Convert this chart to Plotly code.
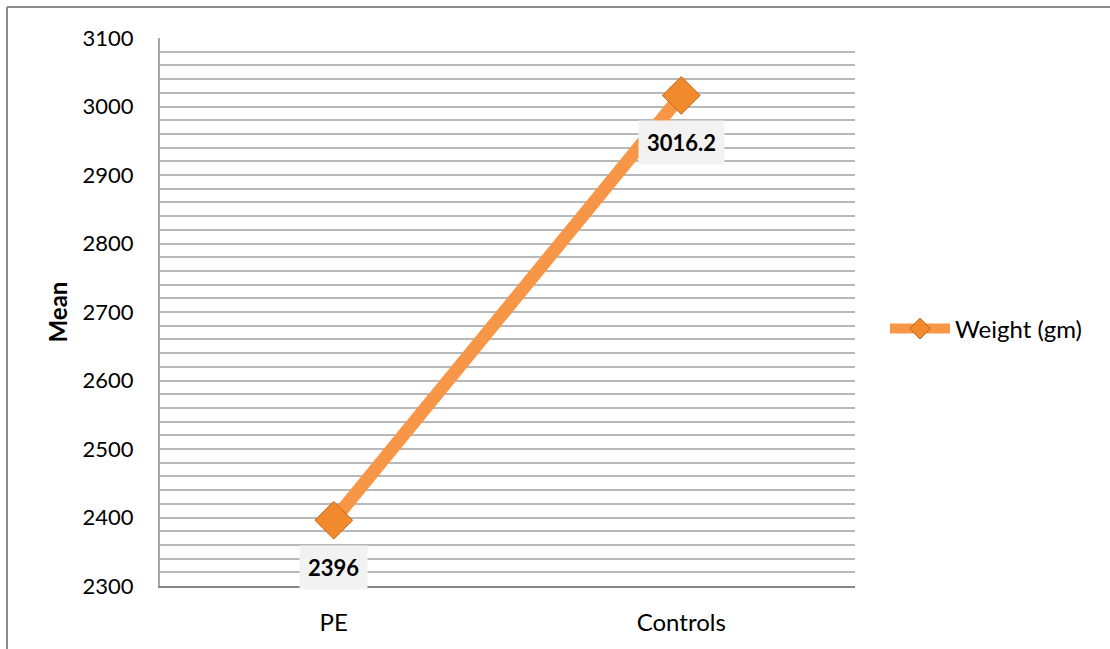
import plotly.graph_objects as go

# Mean birth weight by group
groups = ["PE", "Controls"]
weight_gm = [2396, 3016.2]
series_name = "Weight (gm)"
y_ticks = [2300, 2400, 2500, 2600, 2700, 2800, 2900, 3000, 3100]

ORANGE = "#F79646"
MARKER = "#F08A2C"
FONT = "Lato, 'Open Sans', sans-serif"

W, H = 1110, 649
L, R, T, B = 160, 255, 38, 63
pw, ph = W - L - R, H - T - B


def px_x(x):
    return (x - L) / pw


def px_y(y):
    return (H - B - y) / ph


fig = go.Figure()
fig.add_trace(go.Scatter(
    x=groups, y=weight_gm, name=series_name,
    mode="lines+markers",
    line=dict(color=ORANGE, width=13),
    marker=dict(symbol="diamond", size=29, color=MARKER,
                line=dict(color="#C4651C", width=1)),
))

# value labels in light boxes beneath each point
for g, v in zip(groups, weight_gm):
    fig.add_annotation(
        x=g, y=v, text=f"<b>{v:g}</b>", showarrow=False,
        yshift=-47, bgcolor="#F2F2F2", borderpad=8,
        font=dict(family=FONT, size=22, color="#000000"),
    )

# outer chart frame (left and top edges visible)
frame = dict(color="#8C8C8C", width=2)
fig.add_shape(type="line", xref="paper", yref="paper",
              x0=px_x(7), x1=px_x(W + 5), y0=px_y(7), y1=px_y(7), line=frame)
fig.add_shape(type="line", xref="paper", yref="paper",
              x0=px_x(7), x1=px_x(7), y0=px_y(7), y1=px_y(H + 5), line=frame)

fig.update_layout(
    width=W, height=H,
    margin=dict(l=L, r=R, t=T, b=B),
    paper_bgcolor="white", plot_bgcolor="white",
    font=dict(family=FONT, size=22, color="#000000"),
    showlegend=True,
    legend=dict(x=px_x(885), y=px_y(329), xanchor="left", yanchor="middle",
                itemwidth=60, font=dict(size=24), bgcolor="rgba(0,0,0,0)"),
    xaxis=dict(
        range=[-0.5, 1.5], showgrid=False, zeroline=False,
        showline=True, linecolor="#868686", linewidth=2,
        ticks="", ticklabelstandoff=14, tickfont=dict(size=24),
    ),
    yaxis=dict(
        range=[2300, 3100], tickvals=y_ticks, showgrid=True,
        gridcolor="#B8B8B8", gridwidth=1.6, zeroline=False,
        showline=True, linecolor="#A6A6A6", linewidth=2,
        ticks="", ticklabelstandoff=20, tickfont=dict(size=22),
        minor=dict(dtick=20, tick0=2300, showgrid=True,
                   gridcolor="#B8B8B8", gridwidth=1.6),
        title=dict(text="<b>Mean</b>", font=dict(size=24), standoff=8),
    ),
)

fig.write_html("out.html")
